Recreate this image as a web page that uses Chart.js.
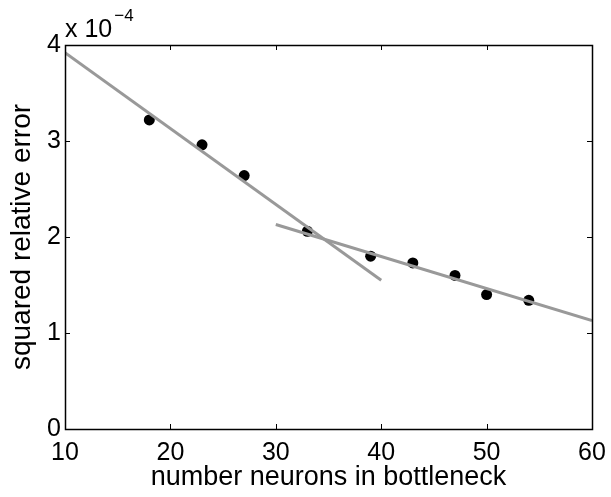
<!DOCTYPE html>
<html>
<head>
<meta charset="utf-8">
<script src="https://cdn.jsdelivr.net/npm/chart.js@4/dist/chart.umd.min.js"></script>
<style>
  html, body { margin: 0; padding: 0; background: #ffffff; }
  #wrap { width: 611px; height: 497px; }
</style>
</head>
<body>
<div id="wrap"><canvas id="c" width="611" height="497"></canvas></div>
<script>
// Data (y values in units of 1e-4)
const neurons = [18, 23, 27, 33, 39, 43, 47, 50, 54];
const errorVals = [3.22, 2.96, 2.64, 2.06, 1.80, 1.73, 1.60, 1.40, 1.34];
const fit1X = [10, 40];
const fit1Y = [3.92, 1.55];
const fit2X = [30, 60];
const fit2Y = [2.13, 1.13];
const xTicks = [10, 20, 30, 40, 50, 60];
const yTicks = [0, 1, 2, 3, 4];
const xTitle = 'number neurons in bottleneck';
const yTitle = 'squared relative error';
const expLabel = 'x 10';
const expSup = '\u22124';

const FONT = "'Liberation Sans', Arial, sans-serif";
const toPts = (xs, ys) => xs.map((x, i) => ({ x: x, y: ys[i] }));

const boxPlugin = {
  id: 'boxTicks',
  afterDraw(chart) {
    const ctx = chart.ctx;
    const a = chart.chartArea;
    const xs = chart.scales.x, ys = chart.scales.y;
    const L = 5;
    ctx.save();
    ctx.strokeStyle = '#000';
    ctx.lineWidth = 1;
    ctx.beginPath();
    xTicks.forEach(v => {
      const px = Math.round(xs.getPixelForValue(v)) + 0.5;
      ctx.moveTo(px, a.bottom); ctx.lineTo(px, a.bottom - L);
      ctx.moveTo(px, a.top); ctx.lineTo(px, a.top + L);
    });
    yTicks.forEach(v => {
      const py = Math.round(ys.getPixelForValue(v)) + 0.5;
      ctx.moveTo(a.left, py); ctx.lineTo(a.left + L, py);
      ctx.moveTo(a.right, py); ctx.lineTo(a.right - L, py);
    });
    ctx.stroke();
    ctx.lineWidth = 1.5;
    ctx.strokeRect(Math.round(a.left) + 0.5, Math.round(a.top) + 0.5,
                   Math.round(a.right - a.left), Math.round(a.bottom - a.top));
    // exponent label
    ctx.fillStyle = '#000';
    ctx.textBaseline = 'alphabetic';
    ctx.textAlign = 'left';
    ctx.font = '25px ' + FONT;
    ctx.fillText(expLabel, a.left, 37);
    const w = ctx.measureText(expLabel).width;
    ctx.font = '17px ' + FONT;
    ctx.fillText(expSup, a.left + w + 2, 21);
    ctx.restore();
  }
};

new Chart(document.getElementById('c'), {
  type: 'scatter',
  data: {
    datasets: [
      {
        data: toPts(fit1X, fit1Y),
        showLine: true,
        borderColor: 'rgb(153,153,153)',
        borderWidth: 3,
        pointRadius: 0,
        fill: false
      },
      {
        data: toPts(fit2X, fit2Y),
        showLine: true,
        borderColor: 'rgb(153,153,153)',
        borderWidth: 3,
        pointRadius: 0,
        fill: false
      },
      {
        data: toPts(neurons, errorVals),
        showLine: false,
        pointRadius: 5.5,
        pointBackgroundColor: '#000',
        pointBorderColor: '#000',
        pointBorderWidth: 0
      }
    ]
  },
  options: {
    responsive: false,
    animation: false,
    layout: { padding: { top: 45, right: 19, left: 0, bottom: 0 } },
    plugins: { legend: { display: false }, tooltip: { enabled: false } },
    scales: {
      x: {
        type: 'linear',
        min: 10, max: 60,
        afterFit(s) { s.height = 68; s.paddingLeft = 0; s.paddingRight = 0; },
        afterBuildTicks(s) { s.ticks = xTicks.map(v => ({ value: v })); },
        grid: { display: false, drawTicks: false },
        border: { display: false },
        ticks: { color: '#000', font: { family: FONT, size: 25 }, padding: 9, maxRotation: 0 },
        title: { display: true, text: xTitle, color: '#000', font: { family: FONT, size: 27 }, padding: { top: 0, bottom: 3 } }
      },
      y: {
        type: 'linear',
        min: 0, max: 4,
        afterFit(s) { s.width = 65; s.paddingTop = 0; s.paddingBottom = 0; },
        afterBuildTicks(s) { s.ticks = yTicks.map(v => ({ value: v })); },
        grid: { display: false, drawTicks: false },
        border: { display: false },
        ticks: { color: '#000', font: { family: FONT, size: 25 }, padding: 4 },
        title: { display: true, text: yTitle, color: '#000', font: { family: FONT, size: 28 }, padding: { top: 5, bottom: 0 } }
      }
    }
  },
  plugins: [boxPlugin]
});
</script>
</body>
</html>
